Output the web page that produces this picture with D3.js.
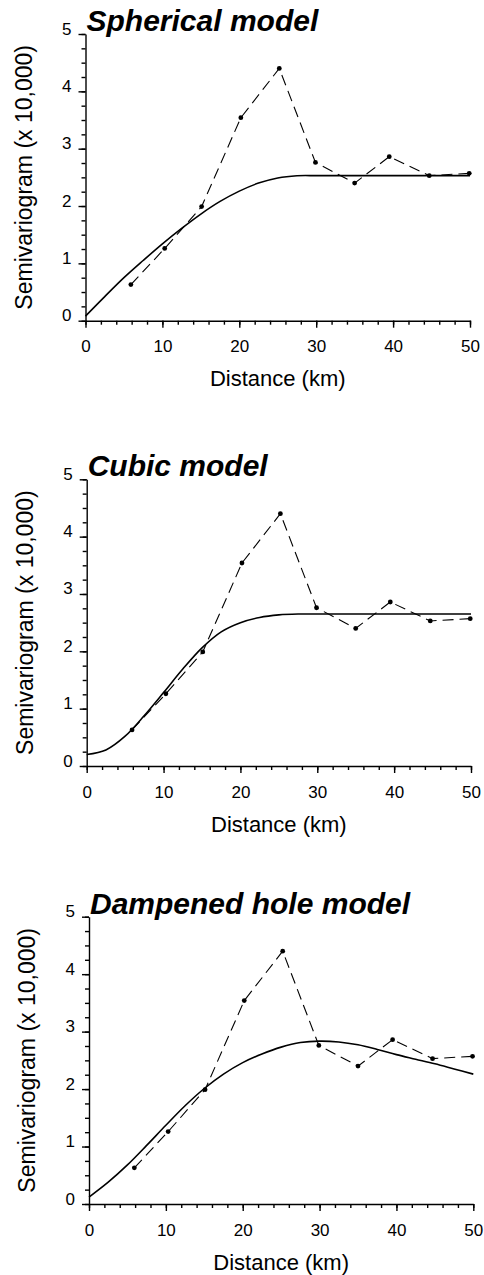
<!DOCTYPE html>
<html lang="en">
<head>
    <meta charset="UTF-8">
    <title>Semivariogram models</title>
    <script src="https://d3js.org/d3.v7.min.js"></script>
    <style>
        body {
            margin: 0;
            background: #fff;
        }
        svg text {
            font-family: "Liberation Sans", Arial, Helvetica, sans-serif;
            fill: #000;
        }
        .tick-label {
            font-size: 17px;
        }
        .axis-title {
            font-size: 22px;
        }
        .panel-title {
            font-size: 30px;
            font-weight: bold;
            font-style: italic;
        }
    </style>
</head>
<body>
    <script>
        var w = 484;
        var h = 1275;

        // experimental semivariogram (x 10,000), same in all three panels
        var lagKm = [5.9, 10.3, 15.1, 20.2, 25.2, 29.9, 35.0, 39.5, 44.7, 49.9];
        var gammaObs = [0.63, 1.26, 1.99, 3.54, 4.40, 2.76, 2.40, 2.86, 2.53, 2.57];

        // fitted models, every 2.5 km
        var modelKm = [0, 2.5, 5, 7.5, 10, 12.5, 15, 17.5, 20, 22.5, 25, 27.5, 30,
                       32.5, 35, 37.5, 40, 42.5, 45, 47.5, 50];
        var sphericalFit = [0.08, 0.42, 0.75, 1.05, 1.34, 1.61, 1.86, 2.08, 2.26, 2.40, 2.49, 2.528, 2.53,
                            2.53, 2.53, 2.53, 2.53, 2.53, 2.53, 2.53, 2.53];
        var cubicFit = [0.20, 0.28, 0.52, 0.88, 1.28, 1.69, 2.06, 2.34, 2.50, 2.59, 2.635, 2.65, 2.65,
                        2.65, 2.65, 2.65, 2.65, 2.65, 2.65, 2.65, 2.65];
        var holeFit = [0.12, 0.38, 0.68, 1.02, 1.37, 1.71, 2.01, 2.26, 2.46, 2.61, 2.73, 2.81, 2.835,
                       2.82, 2.77, 2.69, 2.60, 2.52, 2.44, 2.35, 2.26];

        var titles = ["Spherical model", "Cubic model", "Dampened hole model"];
        var fits = [sphericalFit, cubicFit, holeFit];

        var xTickMajor = [0, 10, 20, 30, 40, 50];
        var yTickMajor = [0, 1, 2, 3, 4, 5];

        // panel frames (pixel positions of the plotting area)
        var panels = [
            { left: 85.5, right: 470, bottom: 320.7, top: 34, titleY: 31 },
            { left: 86.7, right: 471, bottom: 766, top: 479.3, titleY: 476 },
            { left: 89, right: 473.3, bottom: 1204, top: 916.7, titleY: 914 }
        ];

        var svg = d3.select("body")
            .append("svg")
            .attr("width", w)
            .attr("height", h);

        panels.forEach(function (p, k) {
            var g = svg.append("g");

            var xScale = d3.scaleLinear().domain([0, 50]).range([p.left, p.right]);
            var yScale = d3.scaleLinear().domain([0, 5]).range([p.bottom, p.top]);

            // minor ticks
            g.append("g")
                .attr("transform", "translate(0," + p.bottom + ")")
                .call(d3.axisBottom(xScale).tickValues(d3.range(0, 51, 2)).tickSize(4).tickFormat(""))
                .call(function (a) { a.select(".domain").remove(); });
            g.append("g")
                .attr("transform", "translate(" + p.left + ",0)")
                .call(d3.axisLeft(yScale).tickValues(d3.range(0, 5.01, 0.25)).tickSize(4).tickFormat(""))
                .call(function (a) { a.select(".domain").remove(); });

            // major ticks with labels
            var xAxis = g.append("g")
                .attr("transform", "translate(0," + p.bottom + ")")
                .call(d3.axisBottom(xScale).tickValues(xTickMajor).tickSize(7).tickSizeOuter(0)
                    .tickFormat(d3.format("d")));
            xAxis.selectAll(".tick text")
                .attr("class", "tick-label")
                .attr("y", 31.5)
                .attr("dy", 0);

            var yAxis = g.append("g")
                .attr("transform", "translate(" + p.left + ",0)")
                .call(d3.axisLeft(yScale).tickValues(yTickMajor).tickSize(7).tickSizeOuter(0)
                    .tickFormat(d3.format("d")));
            yAxis.selectAll(".tick text")
                .attr("class", "tick-label")
                .attr("x", -14)
                .attr("dy", 0);

            g.selectAll(".domain, .tick line")
                .attr("stroke", "#000")
                .attr("stroke-width", 1.4);
            g.selectAll("g").attr("font-size", null).attr("font-family", null);

            // axis titles
            g.append("text")
                .attr("class", "axis-title")
                .attr("x", (p.left + p.right) / 2)
                .attr("y", p.bottom + 65.5)
                .attr("text-anchor", "middle")
                .text("Distance (km)");

            g.append("text")
                .attr("class", "axis-title")
                .attr("transform", "translate(" + (p.left - 54) + "," + ((p.top + p.bottom) / 2) + ") rotate(-90)")
                .attr("text-anchor", "middle")
                .style("font-size", "23px")
                .text("Semivariogram (x 10,000)");

            g.append("text")
                .attr("class", "panel-title")
                .attr("x", p.left + 1)
                .attr("y", p.titleY)
                .text(titles[k]);

            // fitted model
            var fitLine = d3.line()
                .x(function (d, i) { return xScale(modelKm[i]); })
                .y(function (d) { return yScale(d); })
                .curve(d3.curveCatmullRom.alpha(0.5));

            g.append("path")
                .datum(fits[k])
                .attr("d", fitLine)
                .attr("fill", "none")
                .attr("stroke", "#000")
                .attr("stroke-width", 1.6);

            // experimental semivariogram
            var obsLine = d3.line()
                .x(function (d, i) { return xScale(lagKm[i]); })
                .y(function (d) { return yScale(d); });

            g.append("path")
                .datum(gammaObs)
                .attr("d", obsLine)
                .attr("fill", "none")
                .attr("stroke", "#000")
                .attr("stroke-width", 1.1)
                .attr("stroke-dasharray", "11,6");

            g.selectAll(".pt")
                .data(gammaObs)
                .enter()
                .append("circle")
                .attr("class", "pt")
                .attr("cx", function (d, i) { return xScale(lagKm[i]); })
                .attr("cy", function (d) { return yScale(d); })
                .attr("r", 2.4)
                .attr("fill", "#000");
        });
    </script>
</body>
</html>
